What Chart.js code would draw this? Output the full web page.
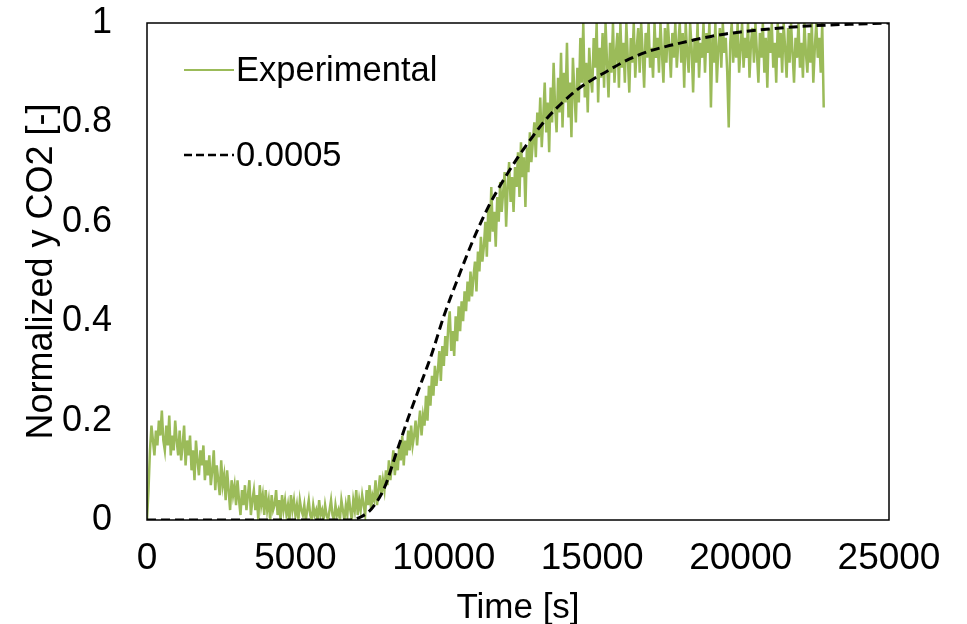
<!DOCTYPE html>
<html>
<head>
<meta charset="utf-8">
<title>Normalized y CO2 breakthrough</title>
<script src="https://cdn.jsdelivr.net/npm/chart.js"></script>
<style>
  body { margin: 0; background: #fff; }
  #wrap { width: 967px; height: 624px; }
</style>
</head>
<body>
<div id="wrap"><canvas id="co2Chart" width="967" height="624"></canvas></div>
<script>
// Experimental signal, one reading every 50 s starting at t = 0 (one row per 1000 s)
const expStep = 50;
const expValues = [
    0, 0.06, 0.14, 0.19, 0.16, 0.13, 0.18, 0.15, 0.20, 0.17, 0.22, 0.16, 0.14, 0.19, 0.15, 0.21, 0.13, 0.17, 0.14, 0.20,
    0.16, 0.13, 0.18, 0.12, 0.15, 0.19, 0.11, 0.16, 0.13, 0.17, 0.10, 0.14, 0.08, 0.16, 0.12, 0.09, 0.14, 0.11, 0.15, 0.08,
    0.12, 0.09, 0.13, 0.07, 0.10, 0.14, 0.06, 0.11, 0.08, 0.05, 0.12, 0.07, 0.09, 0.04, 0.10, 0.06, 0.02, 0.08, 0.05, 0.07,
    0.03, 0.08, 0.04, 0.01, 0.06, 0.03, 0.07, 0.02, 0.05, 0.08, 0.01, 0.04, 0.06, 0.02, 0.05, 0.00, 0.07, 0.03, 0.05, 0.01,
    0.06, 0.02, 0.04, 0.00, 0.05, 0.02, 0.03, 0.06, 0.01, 0.04, 0.00, 0.05, 0.02, 0.04, 0.01, 0.03, 0.00, 0.05, 0.02, 0.04,
    0.01, 0.03, 0.00, 0.04, 0.02, 0.01, 0.03, 0.00, 0.02, 0.04, 0.01, 0.00, 0.03, 0.01, 0.02, 0.00, 0.04, 0.01, 0.02, 0.00,
    0.03, 0.01, 0.00, 0.02, 0.04, 0.01, 0.00, 0.03, 0.01, 0.02, 0.00, 0.04, 0.02, 0.00, 0.03, 0.01, 0.05, 0.02, 0.00, 0.04,
    0.02, 0.06, 0.01, 0.04, 0.02, 0.05, 0.03, 0.01, 0.06, 0.03, 0.07, 0.02, 0.05, 0.04, 0.08, 0.03, 0.06, 0.09, 0.05, 0.08,
    0.06, 0.10, 0.07, 0.12, 0.08, 0.11, 0.14, 0.09, 0.13, 0.10, 0.15, 0.12, 0.17, 0.11, 0.16, 0.13, 0.18, 0.14, 0.19, 0.15,
    0.17, 0.20, 0.15, 0.19, 0.22, 0.17, 0.21, 0.19, 0.25, 0.20, 0.27, 0.23, 0.29, 0.25, 0.31, 0.27, 0.30, 0.34, 0.28, 0.35,
    0.31, 0.37, 0.33, 0.39, 0.42, 0.34, 0.38, 0.33, 0.41, 0.36, 0.43, 0.38, 0.44, 0.40, 0.46, 0.42, 0.48, 0.44, 0.50, 0.45,
    0.49, 0.52, 0.46, 0.54, 0.50, 0.57, 0.52, 0.55, 0.60, 0.53, 0.63, 0.56, 0.67, 0.58, 0.62, 0.55, 0.65, 0.60, 0.68, 0.62,
    0.66, 0.70, 0.59, 0.67, 0.72, 0.64, 0.69, 0.62, 0.71, 0.67, 0.74, 0.65, 0.76, 0.69, 0.73, 0.63, 0.75, 0.70, 0.78, 0.72,
    0.76, 0.80, 0.73, 0.82, 0.77, 0.85, 0.75, 0.81, 0.88, 0.78, 0.84, 0.74, 0.87, 0.80, 0.92, 0.83, 0.78, 0.89, 0.82, 0.94,
    0.79, 0.90, 0.84, 0.96, 0.81, 0.88, 0.77, 0.93, 0.86, 0.80, 0.91, 0.84, 0.97, 0.88, 1.00, 0.85, 0.92, 0.82, 0.95, 0.89,
    0.86, 0.97, 0.91, 1.00, 0.84, 0.95, 0.89, 0.98, 0.87, 1.00, 0.92, 0.85, 0.96, 0.90, 1.00, 0.88, 0.94, 0.98, 0.87, 1.00,
    0.91, 0.96, 0.88, 1.00, 0.93, 0.86, 0.97, 0.92, 1.00, 0.89, 0.95, 0.99, 0.90, 1.00, 0.94, 0.87, 0.98, 0.93, 1.00, 0.91,
    0.95, 0.89, 1.00, 0.93, 0.97, 0.90, 1.00, 0.94, 0.88, 0.99, 0.92, 1.00, 0.95, 0.89, 0.98, 0.93, 1.00, 0.91, 0.96, 1.00,
    0.92, 0.98, 0.87, 1.00, 0.94, 0.90, 1.00, 0.95, 0.86, 0.97, 0.92, 1.00, 0.89, 0.96, 0.93, 1.00, 0.90, 0.98, 0.94, 1.00,
    0.83, 0.97, 0.92, 1.00, 0.88, 0.95, 0.99, 0.91, 1.00, 0.94, 0.97, 0.90, 0.79, 0.96, 1.00, 0.92, 0.98, 0.93, 1.00, 0.90,
    0.95, 1.00, 0.91, 0.97, 0.93, 1.00, 0.89, 0.96, 0.99, 0.92, 1.00, 0.94, 0.88, 0.98, 0.93, 1.00, 0.90, 0.97, 0.87, 0.99,
    0.94, 1.00, 0.91, 0.96, 0.88, 1.00, 0.93, 0.98, 0.90, 1.00, 0.95, 0.89, 0.99, 0.92, 1.00, 0.94, 0.88, 0.97, 0.93, 1.00,
    0.91, 0.96, 0.89, 1.00, 0.94, 0.90, 0.98, 0.92, 1.00, 0.88, 0.95, 1.00, 0.93, 0.97, 0.90, 1.00, 0.83
];

// Model curve (k = 0.0005)
const modelTimes = [0, 6800, 7200, 7600, 8000, 8400, 8800, 9200, 9600, 10000,
    10500, 11000, 11500, 12000, 12500, 13000, 13500, 14000, 14500, 15000,
    15500, 16000, 16500, 17000, 17500, 18000, 18500, 19000, 19500, 20000,
    21000, 22000, 23000, 24000, 25000];
const modelValues = [0, 0, 0.006, 0.025, 0.065, 0.135, 0.205, 0.27, 0.335, 0.41,
    0.49, 0.565, 0.63, 0.683, 0.73, 0.772, 0.81, 0.84, 0.866, 0.886,
    0.903, 0.92, 0.934, 0.945, 0.953, 0.96, 0.967, 0.973, 0.978, 0.982,
    0.988, 0.993, 0.996, 0.998, 1.0];

const seriesLabels = ['Experimental', '0.0005'];
const xTicks = [0, 5000, 10000, 15000, 20000, 25000];
const yTicks = [0, 0.2, 0.4, 0.6, 0.8, 1];

const expPoints = expValues.map((v, i) => ({ x: i * expStep, y: v }));
const modelPoints = modelTimes.map((t, i) => ({ x: t, y: modelValues[i] }));

const FONT = 'Liberation Sans, Arial, Helvetica, sans-serif';

// legend drawn inside the plot area, plus the closed box round it
const boxAndLegend = {
    id: 'boxAndLegend',
    afterDatasetsDraw(chart) {
        const { ctx, chartArea } = chart;
        ctx.save();
        ctx.strokeStyle = '#000';
        ctx.lineWidth = 1.5;
        ctx.strokeRect(chartArea.left, chartArea.top,
            chartArea.right - chartArea.left, chartArea.bottom - chartArea.top);

        const rows = [
            { ds: chart.data.datasets[0], dy: 47 },
            { ds: chart.data.datasets[1], dy: 132 }
        ];
        ctx.font = '34.5px ' + FONT;
        ctx.textBaseline = 'middle';
        ctx.fillStyle = '#000';
        rows.forEach(r => {
            const y = chartArea.top + r.dy;
            const x0 = chartArea.left + 37;
            ctx.beginPath();
            ctx.strokeStyle = r.ds.borderColor;
            ctx.lineWidth = r.ds.borderDash ? 2.5 : 2;
            ctx.setLineDash(r.ds.borderDash ? [8, 4] : []);
            ctx.moveTo(x0, y);
            ctx.lineTo(x0 + 50, y);
            ctx.stroke();
            ctx.setLineDash([]);
            ctx.fillText(r.ds.label, x0 + 52, y + 1);
        });
        ctx.restore();
    }
};

const ctx = document.getElementById('co2Chart').getContext('2d');
new Chart(ctx, {
    type: 'line',
    data: {
        datasets: [{
            label: seriesLabels[0],
            data: expPoints,
            borderColor: '#9bbb59',
            borderWidth: 2.5,
            pointRadius: 0,
            tension: 0,
            order: 1
        }, {
            label: seriesLabels[1],
            data: modelPoints,
            borderColor: '#000000',
            borderWidth: 3,
            borderDash: [9, 5],
            pointRadius: 0,
            cubicInterpolationMode: 'monotone',
            order: 0
        }]
    },
    options: {
        responsive: false,
        animation: false,
        layout: {
            padding: { top: 23, right: 78, left: 0, bottom: 0 }
        },
        plugins: {
            legend: { display: false },
            tooltip: { enabled: false }
        },
        scales: {
            x: {
                type: 'linear',
                min: 0,
                max: 25000,
                afterBuildTicks: (scale) => { scale.ticks = xTicks.map(v => ({ value: v })); },
                afterFit: (scale) => {
                    scale.height = 104;
                    scale.paddingLeft = 0;
                    scale.paddingRight = 0;
                },
                grid: { display: false, drawTicks: false },
                border: { display: false },
                ticks: {
                    padding: 17,
                    color: '#000',
                    maxRotation: 0,
                    font: { family: FONT, size: 37 },
                    callback: (v) => String(v)
                },
                title: {
                    display: true,
                    text: 'Time [s]',
                    color: '#000',
                    font: { family: FONT, size: 35 },
                    padding: { top: 0, bottom: -5 }
                }
            },
            y: {
                min: 0,
                max: 1,
                afterBuildTicks: (scale) => { scale.ticks = yTicks.map(v => ({ value: v })); },
                afterFit: (scale) => {
                    scale.width = 147;
                    scale.paddingTop = 0;
                    scale.paddingBottom = 0;
                },
                grid: { display: false, drawTicks: false },
                border: { display: false },
                ticks: {
                    padding: 35,
                    color: '#000',
                    font: { family: FONT, size: 36 },
                    callback: (v) => String(v)
                },
                title: {
                    display: true,
                    text: 'Normalized y CO2 [-]',
                    color: '#000',
                    font: { family: FONT, size: 36 },
                    padding: { top: 20, bottom: 0 }
                }
            }
        }
    },
    plugins: [boxAndLegend]
});
</script>
</body>
</html>
